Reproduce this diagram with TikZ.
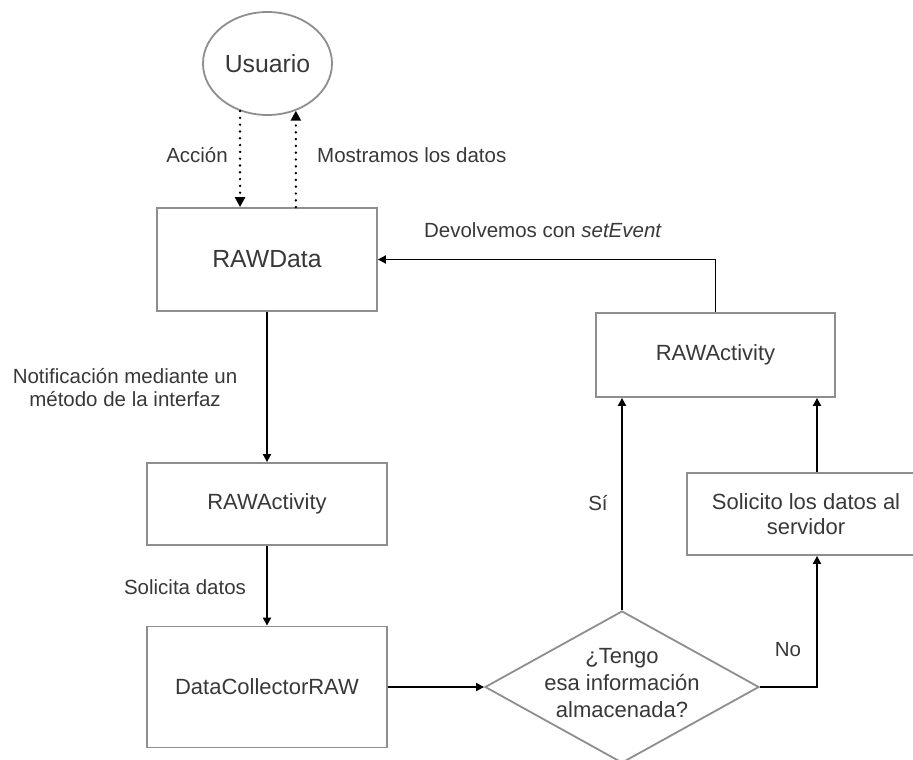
\documentclass[tikz,border=0pt]{standalone}
\usepackage{fontspec}
\setmainfont{Liberation Sans}
\usetikzlibrary{shapes.geometric,arrows.meta}
\definecolor{boxgray}{HTML}{8E8E8E}
\definecolor{inkgray}{HTML}{383838}
\begin{document}
\begin{tikzpicture}[x=1pt,y=-1pt,
  box/.style={draw=boxgray, line width=1.8pt, rectangle, inner sep=0pt,
    text=inkgray, font=\fontsize{22}{26}\selectfont, align=center},
  bigtext/.style={font=\fontsize{24.8}{28}\selectfont},
  flow/.style={draw=black, line width=1.8pt, -{Triangle[length=8pt,width=8pt]}},
  dotflow/.style={draw=black, line width=2.7pt, line cap=round,
    dash pattern=on 0pt off 6.8pt, -{Triangle[length=10pt,width=10pt]}},
  lbl/.style={text=inkgray, font=\fontsize{20.5}{23}\selectfont, inner sep=0pt, align=center}]

\useasboundingbox (0,0) rectangle (913,760);

% nodes
\node[ellipse, draw=boxgray, line width=1.8pt, minimum width=129pt, minimum height=103pt,
  inner sep=0pt, text=inkgray, bigtext] (usr) at (267.5,63.5) {Usuario};
\node[box, bigtext, minimum width=220pt, minimum height=103pt] (rd) at (267,259.5) {RAWData};
\node[box, minimum width=240pt, minimum height=82pt] (ra1) at (267,504) {RAWActivity};
\node[box, minimum width=240pt, minimum height=121pt] (dc) at (267,687) {DataCollectorRAW};
\node[diamond, draw=boxgray, line width=1.8pt, minimum width=274pt, minimum height=152pt,
  inner sep=0pt] (dec) at (622,687) {};
\node[lbl, font=\fontsize{22}{27}\selectfont] (dect) at (622,683) {¿Tengo\\esa información\\almacenada?};
\node[box, minimum width=239pt, minimum height=84pt] (ra2) at (715.5,355) {RAWActivity};
\node[box, minimum width=238pt, minimum height=82pt, font=\fontsize{22}{25}\selectfont]
  (srv) at (806,514) {Solicito los datos al\\servidor};
\coordinate (nocol) at (817,514);

% connectors
\draw[dotflow] (usr.240.6) -- (usr.240.6 |- rd.north);
\draw[dotflow] (usr.301.7 |- rd.north) -- (usr.301.7);
\draw[flow] (rd.south) -- (ra1.north);
\draw[flow] (ra1.south) -- (dc.north);
\draw[flow] (dc.east) -- (dec.west);
\draw[flow] (dec.north) -- (dec.north |- ra2.south);
\draw[flow] (dec.east) -| (nocol |- srv.south);
\draw[flow] (nocol |- srv.north) -- (nocol |- ra2.south);
\draw[flow] (ra2.north) |- (rd.east);

% labels
\node[lbl, anchor=east] (lacc) at (228,155) {Acción};
\node[lbl, anchor=west] (lmos) at (317,155) {Mostramos los datos};
\node[lbl] (ldev) at (543,230) {Devolvemos con \textit{setEvent}};
\node[lbl] (lnot) at (125,387.5) {Notificación mediante un\\método de la interfaz};
\node[lbl] (lsol) at (185,587) {Solicita datos};
\node[lbl] (lsi) at (598,503) {Sí};
\node[lbl] (lno) at (788,650) {No};
\end{tikzpicture}
\end{document}
